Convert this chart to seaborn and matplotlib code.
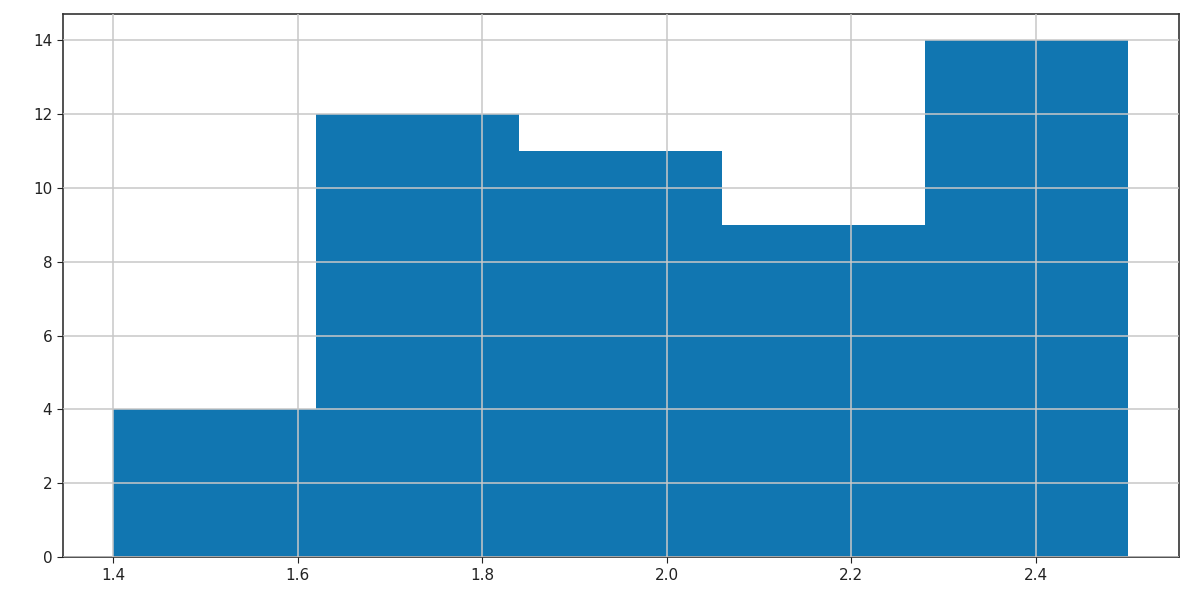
## importando bibliotecas
import matplotlib
matplotlib.use("Agg")
import matplotlib.pyplot as plt
import seaborn as sns
import numpy as np

## dados: limites das classes e contagens
bin_edges = [1.4, 1.62, 1.84, 2.06, 2.28, 2.5]
counts = [4, 12, 11, 9, 14]
x_ticks = [1.4, 1.6, 1.8, 2.0, 2.2, 2.4]
y_ticks = [0, 2, 4, 6, 8, 10, 12, 14]

centers = [(a + b) / 2 for a, b in zip(bin_edges[:-1], bin_edges[1:])]

fig, ax = plt.subplots(figsize=(11.92, 6.02), dpi=100)
fig.subplots_adjust(left=0.0526, right=0.9887, top=0.9767, bottom=0.0743)

## histograma com pesos = contagens
sns.histplot(x=centers, weights=counts, bins=bin_edges, ax=ax,
             color='#1176b1', alpha=1, edgecolor='none', linewidth=0)

ax.set_xticks(x_ticks)
ax.set_yticks(y_ticks)
ax.tick_params(labelsize=11, colors='#222222', length=4)
ax.grid(True, color='#c8c8c8', linewidth=1.1)
ax.set_axisbelow(False)
ax.set_xlabel('')
ax.set_ylabel('')
ax.set_xlim(1.345, 2.555)
ax.set_ylim(0, 14.7)
for s in ax.spines.values():
    s.set_color('#333333')
    s.set_linewidth(1.2)

plt.savefig('out.png', dpi=100)
plt.close()
